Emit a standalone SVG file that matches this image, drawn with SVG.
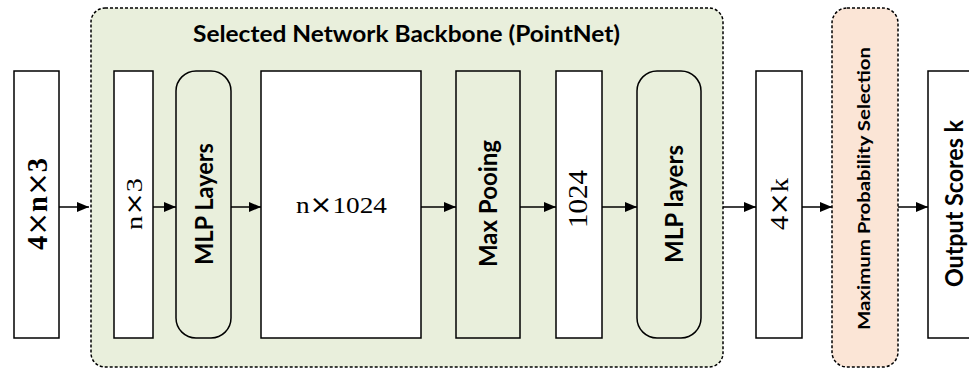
<svg xmlns="http://www.w3.org/2000/svg" width="969" height="369" viewBox="0 0 969 369">
  <defs>
    <marker id="arrow" viewBox="0 0 12 10" refX="12" refY="5" markerWidth="12" markerHeight="10" markerUnits="userSpaceOnUse" orient="auto">
      <path d="M0,0 L12,5 L0,10 Z" fill="#000"/>
    </marker>
    <style>
      .box { fill: #ffffff; stroke: #000; stroke-width: 1.5; }
      .op { fill: #e9efdc; stroke: #000; stroke-width: 1.5; }
      .group { fill: #e9efdc; stroke: #000; stroke-width: 1.5; stroke-dasharray: 3 2; }
      .sel { fill: #fbe5d6; stroke: #000; stroke-width: 1.5; stroke-dasharray: 3 2; }
      .edge { stroke: #000; stroke-width: 1.5; fill: none; marker-end: url(#arrow); }
      .sans { font-family: Lato, "Liberation Sans", sans-serif; font-weight: bold; fill: #000; }
      .math { font-family: "Liberation Serif", "Times New Roman", serif; fill: #000; }
      .times { font-family: "DejaVu Sans", sans-serif; font-weight: normal; }
    </style>
  </defs>

  <!-- backbone container -->
  <g id="backbone">
    <rect class="group" x="91" y="8" width="632" height="359" rx="14"/>
    <text class="sans" x="406.5" y="42" font-size="23" text-anchor="middle" textLength="427" lengthAdjust="spacingAndGlyphs">Selected Network Backbone (PointNet)</text>
  </g>

  <g id="input">
    <rect class="box" x="14" y="71" width="45" height="267"/>
    <text class="math" transform="translate(47,204) rotate(-90)" font-size="29" font-weight="bold" text-anchor="middle" textLength="92" lengthAdjust="spacingAndGlyphs">4<tspan class="times">×</tspan>n<tspan class="times">×</tspan>3</text>
  </g>

  <g id="points">
    <rect class="box" x="114" y="71" width="39" height="267"/>
    <text class="math" transform="translate(142,204) rotate(-90)" font-size="23" text-anchor="middle" textLength="52" lengthAdjust="spacingAndGlyphs">n<tspan class="times">×</tspan>3</text>
  </g>

  <g id="mlp1">
    <rect class="op" x="176" y="71" width="55" height="267" rx="20"/>
    <text class="sans" transform="translate(213,204) rotate(-90)" font-size="25" text-anchor="middle" textLength="122" lengthAdjust="spacingAndGlyphs">MLP Layers</text>
  </g>

  <g id="features">
    <rect class="box" x="261" y="71" width="160" height="267"/>
    <text class="math" x="341.5" y="213" font-size="24" text-anchor="middle" textLength="91" lengthAdjust="spacingAndGlyphs">n<tspan class="times">×</tspan>1024</text>
  </g>

  <g id="maxpool">
    <rect class="op" x="456" y="71" width="64" height="267"/>
    <text class="sans" transform="translate(497,203.5) rotate(-90)" font-size="25" text-anchor="middle" textLength="127" lengthAdjust="spacingAndGlyphs">Max Pooing</text>
  </g>

  <g id="global">
    <rect class="box" x="556" y="71" width="46" height="267"/>
    <text class="math" transform="translate(587,199) rotate(-90)" font-size="28" text-anchor="middle" textLength="58" lengthAdjust="spacingAndGlyphs">1024</text>
  </g>

  <g id="mlp2">
    <rect class="op" x="637" y="71" width="64" height="267" rx="20"/>
    <text class="sans" transform="translate(683,204) rotate(-90)" font-size="25" text-anchor="middle" textLength="118" lengthAdjust="spacingAndGlyphs">MLP layers</text>
  </g>

  <g id="scores">
    <rect class="box" x="756" y="71" width="46" height="267"/>
    <text class="math" transform="translate(788,204) rotate(-90)" font-size="26" text-anchor="middle" textLength="52" lengthAdjust="spacingAndGlyphs">4<tspan class="times">×</tspan>k</text>
  </g>

  <g id="selection">
    <rect class="sel" x="832" y="8" width="66" height="359" rx="15"/>
    <text class="sans" transform="translate(870,188.5) rotate(-90)" font-size="17" text-anchor="middle" textLength="283" lengthAdjust="spacingAndGlyphs">Maximum Probability Selection</text>
  </g>

  <g id="output">
    <rect class="box" x="928" y="71" width="60" height="267"/>
    <text class="sans" transform="translate(963,203.5) rotate(-90)" font-size="25" text-anchor="middle" textLength="167" lengthAdjust="spacingAndGlyphs">Output Scores k</text>
  </g>

  <!-- connectors -->
  <g id="connectors">
    <line class="edge" x1="59" y1="207" x2="89" y2="207"/>
    <line class="edge" x1="153" y1="207" x2="176" y2="207"/>
    <line class="edge" x1="231" y1="207" x2="261" y2="207"/>
    <line class="edge" x1="421" y1="207" x2="456" y2="207"/>
    <line class="edge" x1="520" y1="207" x2="556" y2="207"/>
    <line class="edge" x1="602" y1="207" x2="637" y2="207"/>
    <line class="edge" x1="723" y1="207" x2="756" y2="207"/>
    <line class="edge" x1="802" y1="207" x2="832" y2="207"/>
    <line class="edge" x1="898" y1="207" x2="928" y2="207"/>
  </g>
</svg>
